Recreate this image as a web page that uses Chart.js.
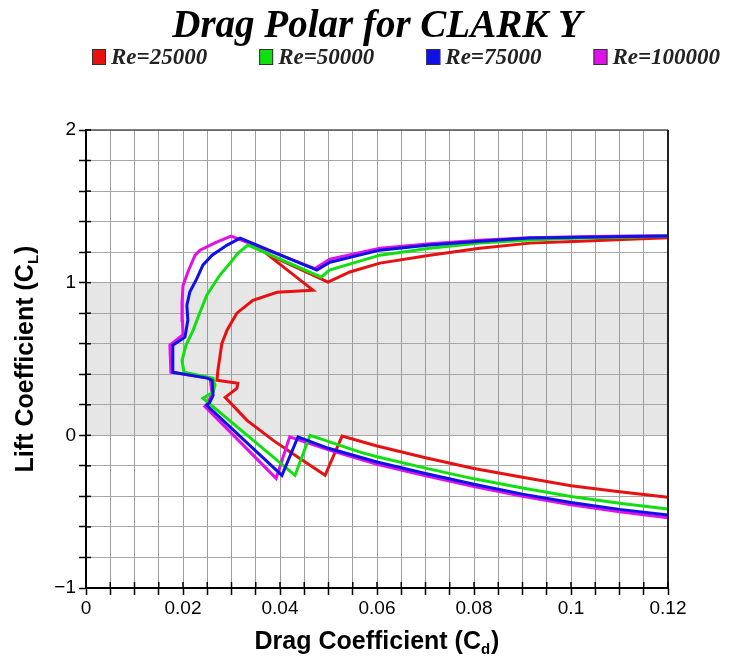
<!DOCTYPE html>
<html>
<head>
<meta charset="utf-8">
<script src="https://cdn.jsdelivr.net/npm/chart.js@4.4.1/dist/chart.umd.min.js"></script>
<style>
html,body{margin:0;padding:0;background:#fff;}
#wrap{width:730px;height:666px;position:relative;}
</style>
</head>
<body>
<div id="wrap"><canvas id="c" width="730" height="666"></canvas></div>
<script>
// ---------- data ----------
const seriesLabels = ['Re=25000', 'Re=50000', 'Re=75000', 'Re=100000'];
const seriesColors = ['#e81010', '#10e010', '#1010e8', '#e010e8'];

const re25000Cd = [0.120, 0.110, 0.100, 0.090, 0.080, 0.070, 0.060, 0.0528, 0.0493, 0.0441, 0.0386, 0.0332, 0.0287, 0.0311, 0.0313, 0.0270, 0.0272, 0.0280, 0.0291, 0.0311, 0.0344, 0.0394, 0.0468, 0.0372, 0.0499, 0.0544, 0.0606, 0.0709, 0.0812, 0.0915, 0.1019, 0.1120, 0.1200];
const re25000Cl = [-0.405, -0.370, -0.330, -0.275, -0.217, -0.147, -0.070, -0.005, -0.262, -0.151, -0.033, 0.098, 0.249, 0.308, 0.341, 0.361, 0.426, 0.600, 0.690, 0.800, 0.885, 0.937, 0.951, 1.190, 1.003, 1.070, 1.128, 1.180, 1.226, 1.259, 1.272, 1.285, 1.295];

const re50000Cd = [0.120, 0.110, 0.100, 0.090, 0.080, 0.070, 0.060, 0.0565, 0.0462, 0.0431, 0.0241, 0.0262, 0.0266, 0.0262, 0.0202, 0.0198, 0.0206, 0.0221, 0.0231, 0.0249, 0.0276, 0.0297, 0.0313, 0.0334, 0.0485, 0.0502, 0.0606, 0.0709, 0.0812, 0.0915, 0.1019, 0.1120, 0.1200];
const re50000Cl = [-0.483, -0.445, -0.400, -0.345, -0.285, -0.215, -0.140, -0.110, 0.000, -0.262, 0.243, 0.282, 0.328, 0.374, 0.413, 0.490, 0.590, 0.689, 0.774, 0.918, 1.050, 1.128, 1.193, 1.246, 1.036, 1.082, 1.180, 1.226, 1.259, 1.279, 1.292, 1.298, 1.305];

const re75000Cd = [0.120, 0.110, 0.100, 0.090, 0.080, 0.070, 0.060, 0.050, 0.0437, 0.0404, 0.0249, 0.0255, 0.0262, 0.0260, 0.0250, 0.0179, 0.0179, 0.0204, 0.0210, 0.0208, 0.0214, 0.0229, 0.0241, 0.0260, 0.0291, 0.0318, 0.0476, 0.0503, 0.0606, 0.0709, 0.0812, 0.0915, 0.1019, 0.1120, 0.1200];
const re75000Cl = [-0.522, -0.485, -0.440, -0.385, -0.320, -0.250, -0.175, -0.085, -0.010, -0.262, 0.197, 0.216, 0.262, 0.361, 0.375, 0.413, 0.590, 0.643, 0.754, 0.852, 0.938, 1.030, 1.115, 1.180, 1.246, 1.292, 1.082, 1.134, 1.213, 1.246, 1.272, 1.292, 1.298, 1.302, 1.305];

const re100000Cd = [0.120, 0.110, 0.100, 0.090, 0.080, 0.070, 0.060, 0.050, 0.0420, 0.0392, 0.0245, 0.0252, 0.0260, 0.0256, 0.0175, 0.0173, 0.0200, 0.0199, 0.0198, 0.0200, 0.0210, 0.0225, 0.0235, 0.0266, 0.0299, 0.0472, 0.0503, 0.0606, 0.0709, 0.0812, 0.0915, 0.1019, 0.1120, 0.1200];
const re100000Cl = [-0.540, -0.500, -0.455, -0.400, -0.335, -0.265, -0.190, -0.095, -0.010, -0.282, 0.190, 0.216, 0.275, 0.374, 0.413, 0.590, 0.660, 0.750, 0.872, 0.980, 1.070, 1.180, 1.213, 1.260, 1.305, 1.092, 1.154, 1.226, 1.255, 1.278, 1.295, 1.300, 1.305, 1.308];

const xTickLabelValues = [0, 0.02, 0.04, 0.06, 0.08, 0.1, 0.12];
const xTickLabels = ['0', '0.02', '0.04', '0.06', '0.08', '0.1', '0.12'];
const yTickLabelValues = [-1, 0, 1, 2];
const yTickLabels = ['\u22121', '0', '1', '2'];
const shadedBand = [0, 1];

const chartTitle = 'Drag Polar for CLARK Y';
const xTitleMain = 'Drag Coefficient (C', xTitleSub = 'd';
const yTitleMain = 'Lift Coefficient (C', yTitleSub = 'L';

// ---------- build datasets ----------
const cdSets = [re25000Cd, re50000Cd, re75000Cd, re100000Cd];
const clSets = [re25000Cl, re50000Cl, re75000Cl, re100000Cl];
const drawOrder = [3, 1, 0, 2];
const datasets = seriesLabels.map((lab, i) => ({
  label: lab,
  data: cdSets[i].map((x, k) => ({ x: x, y: clSets[i][k] })),
  showLine: true,
  fill: false,
  borderColor: seriesColors[i],
  backgroundColor: seriesColors[i],
  borderWidth: 3,
  pointRadius: 0,
  tension: 0,
  order: drawOrder[i]
}));

function labelFor(values, labels, v) {
  for (let i = 0; i < values.length; i++) {
    if (Math.abs(values[i] - v) < 1e-9) return labels[i];
  }
  return '';
}

const SANS = '"Liberation Sans", Arial, Helvetica, sans-serif';
const SERIF = '"Liberation Serif", "Times New Roman", Times, serif';

const bandPlugin = {
  id: 'band',
  beforeDraw(chart) {
    const { ctx, chartArea, scales } = chart;
    const yTop = scales.y.getPixelForValue(shadedBand[1]);
    const yBot = scales.y.getPixelForValue(shadedBand[0]);
    ctx.save();
    ctx.fillStyle = '#e6e6e6';
    ctx.fillRect(chartArea.left, yTop, chartArea.right - chartArea.left, yBot - yTop);
    ctx.restore();
  }
};

const framePlugin = {
  id: 'frame',
  afterDraw(chart) {
    const { ctx, chartArea, scales } = chart;
    ctx.save();
    // top and right border
    ctx.strokeStyle = '#555';
    ctx.lineWidth = 1.5;
    ctx.beginPath();
    ctx.moveTo(chartArea.left, chartArea.top);
    ctx.lineTo(chartArea.right, chartArea.top);
    ctx.stroke();
    ctx.strokeStyle = '#222';
    ctx.lineWidth = 2;
    ctx.beginPath();
    ctx.moveTo(chartArea.right, chartArea.top);
    ctx.lineTo(chartArea.right, chartArea.bottom);
    ctx.stroke();
    // inner tick marks
    ctx.strokeStyle = '#000';
    ctx.lineWidth = 1.5;
    scales.x.ticks.forEach(t => {
      const px = scales.x.getPixelForValue(t.value);
      ctx.beginPath();
      ctx.moveTo(px, chartArea.bottom);
      ctx.lineTo(px, chartArea.bottom - 6);
      ctx.stroke();
    });
    scales.y.ticks.forEach(t => {
      const py = scales.y.getPixelForValue(t.value);
      ctx.beginPath();
      ctx.moveTo(chartArea.left, py);
      ctx.lineTo(chartArea.left + 5, py);
      ctx.stroke();
    });

    // axis titles with subscripts
    ctx.fillStyle = '#000';
    const mainFont = 'bold 25px ' + SANS;
    const subFont = 'bold 15px ' + SANS;
    function drawSubTitle(main, sub, cx, baseline) {
      ctx.font = mainFont;
      const w1 = ctx.measureText(main).width;
      const w3 = ctx.measureText(')').width;
      ctx.font = subFont;
      const w2 = ctx.measureText(sub).width;
      const total = w1 + w2 + w3 + 1;
      let x = cx - total / 2;
      ctx.textAlign = 'left';
      ctx.textBaseline = 'alphabetic';
      ctx.font = mainFont;
      ctx.fillText(main, x, baseline);
      x += w1;
      ctx.font = subFont;
      ctx.fillText(sub, x, baseline + 5);
      x += w2 + 1;
      ctx.font = mainFont;
      ctx.fillText(')', x, baseline);
    }
    const cx = (chartArea.left + chartArea.right) / 2;
    drawSubTitle(xTitleMain, xTitleSub, cx, 649);
    ctx.save();
    ctx.translate(33, (chartArea.top + chartArea.bottom) / 2);
    ctx.rotate(-Math.PI / 2);
    drawSubTitle(yTitleMain, yTitleSub, 0, 0);
    ctx.restore();

    // legend
    const legendFont = 'italic bold 23px ' + SERIF;
    ctx.font = legendFont;
    const boxW = 14, boxH = 16, gap = 52, cy = 57;
    let lx = 92;
    seriesLabels.forEach((lab, i) => {
      ctx.fillStyle = seriesColors[i];
      ctx.fillRect(lx, cy - boxH / 2, boxW, boxH);
      ctx.strokeStyle = '#333';
      ctx.lineWidth = 1;
      ctx.strokeRect(lx + 0.5, cy - boxH / 2 + 0.5, boxW - 1, boxH - 1);
      ctx.fillStyle = '#222';
      ctx.font = legendFont;
      ctx.textAlign = 'left';
      ctx.textBaseline = 'middle';
      const tx = lx + boxW + 5;
      ctx.fillText(lab, tx, cy + 1);
      lx = tx + ctx.measureText(lab).width + gap;
    });
    ctx.restore();
  }
};

new Chart(document.getElementById('c').getContext('2d'), {
  type: 'scatter',
  data: { datasets: datasets },
  options: {
    responsive: false,
    animation: false,
    devicePixelRatio: 1,
    layout: { padding: { left: 0, right: 62, top: 0, bottom: 0 } },
    plugins: {
      legend: { display: false },
      tooltip: { enabled: false },
      title: {
        display: true,
        fullSize: false,
        text: chartTitle,
        color: '#000',
        font: { family: SERIF, size: 39, weight: 'bold', style: 'italic', lineHeight: 1.2 },
        padding: { top: 4, bottom: 79.2 }
      }
    },
    scales: {
      x: {
        type: 'linear',
        position: 'bottom',
        min: 0,
        max: 0.12,
        ticks: {
          stepSize: 0.005,
          autoSkip: false,
          maxRotation: 0,
          minRotation: 0,
          padding: 2,
          color: '#000',
          font: { family: SANS, size: 19 },
          callback: (v) => labelFor(xTickLabelValues, xTickLabels, v)
        },
        grid: { color: '#9c9c9c', lineWidth: 1, tickLength: 7, tickColor: '#000', tickWidth: 1.5 },
        border: { display: true, color: '#000', width: 2 },
        afterFit(scale) { scale.height = 78; }
      },
      y: {
        type: 'linear',
        position: 'left',
        min: -1,
        max: 2,
        ticks: {
          stepSize: 0.2,
          autoSkip: false,
          padding: 3,
          color: '#000',
          font: { family: SANS, size: 19 },
          callback: (v) => labelFor(yTickLabelValues, yTickLabels, v)
        },
        grid: { color: '#a8a8a8', lineWidth: 1, tickLength: 7, tickColor: '#000', tickWidth: 1.5 },
        border: { display: true, color: '#000', width: 2 },
        afterFit(scale) { scale.width = 86; }
      }
    }
  },
  plugins: [bandPlugin, framePlugin]
});
</script>
</body>
</html>
